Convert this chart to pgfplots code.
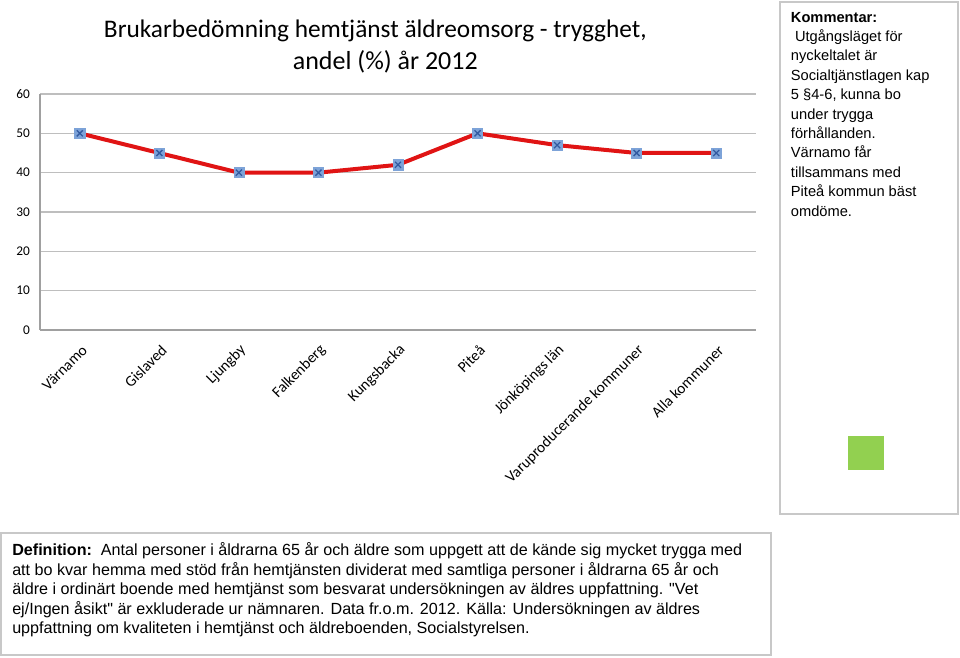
\documentclass[border=0pt]{standalone}
\usepackage{pgfplots}
\pgfplotsset{compat=1.18}
\usepackage{fontspec}
\setmainfont{Carlito}
\newfontfamily\arialf{Liberation Sans}
\definecolor{linered}{RGB}{224,20,20}
\definecolor{mkfill}{RGB}{125,163,216}
\definecolor{mkx}{RGB}{50,90,160}
\definecolor{gridc}{RGB}{190,190,190}
\definecolor{axc}{RGB}{160,160,160}
\definecolor{boxc}{RGB}{200,200,200}
\definecolor{greenq}{RGB}{146,208,80}
\begin{document}
\begin{tikzpicture}[x=1pt,y=1pt]
\path[use as bounding box] (0,0) rectangle (720,492.75);
\begin{axis}[
  at={(30pt,245.25pt)}, anchor=south west,
  scale only axis, width=537pt, height=177pt,
  xmin=-0.5, xmax=8.5, ymin=0, ymax=60,
  ytick={0,10,20,30,40,50,60},
  xtick=data,
  xticklabels={Värnamo,Gislaved,Ljungby,Falkenberg,Kungsbacka,Piteå,Jönköpings län,Varuproducerande kommuner,Alla kommuner},
  xticklabel style={rotate=45, anchor=east, font=\fontsize{11.5}{13}\selectfont, xshift=-3.5pt, yshift=-12pt},
  yticklabel style={font=\fontsize{10}{12}\selectfont, xshift=-4pt},
  /pgf/number format/assume math mode=true,
  major tick length=0pt,
  axis x line*=bottom, axis y line*=left,
  axis line style={axc, line width=0.8pt, -},
  ymajorgrids, grid style={gridc, line width=0.8pt},
  clip=false,
]
\addplot[linered, line width=3pt, mark=square*, mark size=3.8pt, mark options={fill=mkfill, draw=mkfill, line width=0.4pt}]
  coordinates {(0,50) (1,45) (2,40) (3,40) (4,42) (5,50) (6,47) (7,45) (8,45)};
\addplot[only marks, mark=x, mark size=3.2pt, mark options={draw=mkx, line width=1pt}]
  coordinates {(0,50) (1,45) (2,40) (3,40) (4,42) (5,50) (6,47) (7,45) (8,45)};
\end{axis}
% title
\node[anchor=base, font=\fontsize{19}{22}\selectfont, inner sep=0] at (281.5,464.25) {Brukarbedömning hemtjänst äldreomsorg - trygghet,};
\node[anchor=base, font=\fontsize{19.5}{22}\selectfont, inner sep=0] at (289,440.5) {andel (\%) år 2012};
% comment box
\draw[boxc, line width=0.8pt] (585,107.25) rectangle (718.5,491.25);
\node[anchor=north west, inner sep=0, align=left, font=\arialf\fontsize{11}{14.55}\selectfont] at (593,484) {\textbf{Kommentar:}\\
\ Utgångsläget för\\
nyckeltalet är\\
Socialtjänstlagen kap\\
5 §4-6, kunna bo\\
under trygga\\
förhållanden.\\
Värnamo får\\
tillsammans med\\
Piteå kommun bäst\\
omdöme.};
\fill[greenq] (636,140.25) rectangle (663,165.75);
% definition box
\draw[boxc, line width=0.8pt] (0.75,1.5) rectangle (578.25,93);
\node[anchor=north west, inner sep=0, align=left, font=\arialf\fontsize{12.1}{14.6}\selectfont] at (9,86) {\textbf{Definition:}\ \ Antal personer i åldrarna 65 år och äldre som uppgett att de kände sig mycket trygga med\\
att bo kvar hemma med stöd från hemtjänsten dividerat med samtliga personer i åldrarna 65 år och\\
äldre i ordinärt boende med hemtjänst som besvarat undersökningen av äldres uppfattning. "Vet\\
ej/Ingen åsikt" är exkluderade ur nämnaren. Data fr.o.m. 2012. Källa: Undersökningen av äldres\\
uppfattning om kvaliteten i hemtjänst och äldreboenden, Socialstyrelsen.};
\end{tikzpicture}
\end{document}
